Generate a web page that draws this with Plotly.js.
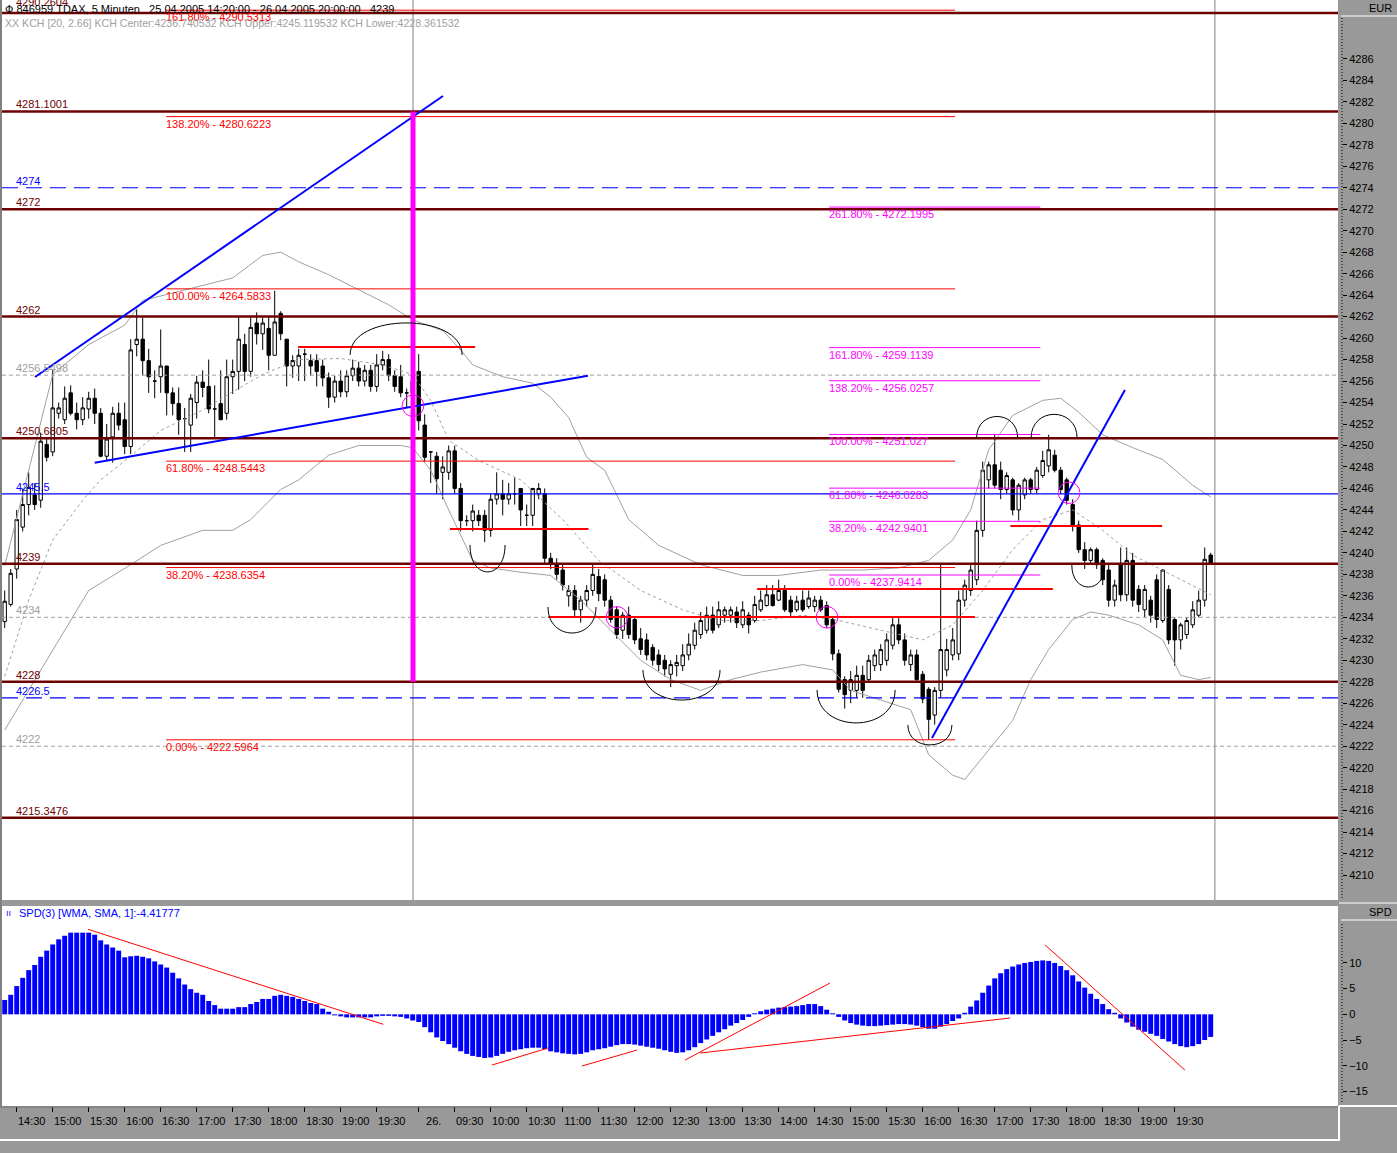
<!DOCTYPE html>
<html><head><meta charset="utf-8">
<script src="https://cdn.plot.ly/plotly-3.0.1.min.js"></script>
<style>html,body{margin:0;padding:0;background:#999999}#chart{width:1397px;height:1153px}</style>
</head><body><div id="chart"></div>
<script>
// ---------------- DATA ----------------
const openP = [4233.6,4235.2,4238.5,4242.4,4244.5,4245.4,4244.9,4250.1,4249.4,4253.0,
4252.4,4254.9,4253.0,4252.4,4253.4,4254.4,4253.0,4249.0,4250.8,4253.0,
4252.4,4249.9,4259.4,4259.9,4257.9,4256.0,4256.4,4257.4,4254.9,4253.9,
4252.5,4251.9,4254.0,4255.9,4255.5,4253.4,4253.9,4253.0,4256.4,4256.9,
4259.4,4256.9,4261.4,4260.4,4260.9,4258.4,4262.3,4259.9,4257.4,4257.4,
4258.5,4257.9,4257.9,4257.4,4256.3,4254.5,4256.0,4255.0,4256.5,4257.2,
4256.0,4257.0,4255.5,4257.5,4258.0,4256.5,4256.4,4254.9,4254.9,4256.9,
4251.9,4249.4,4249.0,4247.5,4247.5,4249.5,4246.0,4243.0,4243.0,4243.5,
4243.5,4242.1,4245.0,4245.5,4245.0,4245.5,4246.0,4243.5,4243.5,4245.5,
4245.5,4239.5,4239.0,4238.4,4236.0,4236.5,4234.7,4235.6,4236.5,4237.8,
4237.5,4235.6,4234.7,4232.8,4234.2,4233.8,4232.0,4231.9,4231.2,4230.5,
4230.0,4228.7,4229.5,4229.5,4230.5,4231.4,4232.4,4232.8,4234.2,4233.3,
4234.2,4234.2,4234.5,4233.3,4234.2,4233.7,4234.7,4235.1,4236.1,4235.6,
4236.5,4235.6,4234.7,4235.6,4235.0,4235.0,4235.6,4235.1,4233.8,4230.6,
4228.2,4227.2,4227.2,4228.6,4228.2,4229.5,4229.6,4230.0,4231.4,4233.3,
4231.9,4229.6,4230.5,4228.7,4227.3,4224.9,4227.2,4229.1,4230.5,4230.6,
4235.6,4236.5,4237.5,4242.1,4246.8,4248.2,4247.7,4245.9,4246.8,4244.0,
4245.4,4246.8,4245.9,4247.2,4248.1,4249.1,4247.7,4246.8,4244.5,4242.6,
4240.3,4239.3,4240.3,4239.3,4238.4,4235.6,4238.9,4236.1,4239.3,4236.6,
4234.7,4235.6,4237.5,4233.7,4236.6,4233.8,4231.9,4232.4,4233.3,4234.2,
4235.6,4239.8];
const highP = [4236.5,4238.5,4244.0,4246.0,4247.5,4246.5,4251.2,4250.8,4257.0,4254.0,
4255.5,4255.6,4254.0,4254.5,4255.0,4255.3,4253.5,4252.0,4253.6,4254.0,
4254.0,4259.9,4262.7,4261.9,4259.0,4257.0,4260.8,4257.4,4255.4,4255.4,
4253.5,4254.8,4256.5,4257.0,4258.0,4255.6,4257.0,4258.0,4258.0,4262.0,
4260.4,4261.9,4262.4,4261.9,4262.0,4264.4,4262.5,4259.9,4258.4,4259.0,
4259.0,4258.5,4258.5,4258.0,4256.8,4256.5,4257.0,4257.0,4258.0,4257.8,
4257.5,4257.5,4258.5,4258.8,4258.5,4257.0,4257.5,4255.3,4256.5,4258.5,
4252.9,4249.4,4249.4,4249.0,4250.0,4250.0,4246.5,4243.5,4244.5,4244.0,
4244.0,4245.5,4247.5,4246.8,4246.5,4247.0,4246.0,4244.5,4246.0,4246.5,
4246.0,4240.0,4239.5,4239.0,4237.0,4237.0,4236.0,4237.0,4239.0,4238.5,
4238.0,4236.0,4235.0,4234.5,4235.0,4234.0,4233.0,4232.5,4231.5,4231.0,
4230.5,4230.0,4230.5,4231.5,4232.5,4233.5,4234.5,4235.0,4235.0,4235.5,
4235.0,4235.0,4235.0,4235.5,4234.5,4236.0,4236.5,4237.0,4237.0,4237.5,
4237.0,4236.0,4236.0,4236.5,4236.5,4236.0,4236.0,4235.5,4234.0,4231.0,
4228.5,4229.0,4229.5,4229.5,4230.5,4231.0,4231.5,4232.5,4234.0,4234.0,
4232.5,4231.0,4231.0,4229.0,4227.5,4227.5,4239.0,4232.0,4233.0,4236.5,
4237.5,4239.0,4243.0,4248.5,4248.5,4251.0,4248.5,4247.5,4247.0,4246.5,
4247.0,4247.0,4248.0,4249.5,4251.0,4249.6,4248.0,4247.0,4245.0,4243.0,
4241.0,4240.5,4240.5,4239.5,4239.0,4237.5,4240.5,4240.5,4240.0,4237.0,
4237.0,4236.0,4238.0,4238.5,4237.0,4234.0,4233.5,4234.0,4235.5,4236.5,
4240.5,4240.0];
const lowP = [4233.0,4235.0,4237.6,4242.0,4243.5,4244.0,4244.2,4248.5,4249.0,4252.5,
4252.0,4252.8,4251.5,4251.9,4252.5,4252.0,4248.9,4248.6,4248.4,4251.4,
4249.2,4249.2,4258.3,4256.5,4254.9,4254.4,4254.9,4252.8,4252.8,4251.0,
4249.4,4249.4,4252.5,4254.5,4253.0,4250.6,4252.8,4252.4,4254.8,4255.2,
4256.0,4256.4,4259.4,4258.9,4257.0,4258.4,4259.8,4255.5,4256.3,4256.0,
4256.0,4256.5,4255.5,4255.5,4253.5,4254.0,4254.5,4254.5,4256.0,4255.5,
4255.5,4255.0,4255.0,4257.0,4256.0,4255.0,4254.5,4253.5,4254.0,4251.4,
4248.5,4246.5,4245.5,4245.0,4246.8,4245.5,4242.0,4242.5,4242.0,4242.5,
4241.0,4241.5,4244.5,4243.5,4244.5,4244.5,4242.5,4242.5,4242.5,4245.0,
4239.0,4238.5,4237.5,4236.5,4235.0,4234.0,4233.5,4235.0,4236.0,4235.5,
4235.0,4233.5,4232.0,4232.0,4232.0,4231.5,4230.5,4230.0,4229.5,4229.0,
4228.5,4227.5,4228.5,4229.0,4230.0,4231.0,4232.0,4232.5,4232.5,4233.0,
4233.5,4233.5,4233.0,4233.0,4232.5,4233.5,4234.5,4235.0,4235.0,4235.5,
4234.5,4234.0,4234.5,4234.5,4234.8,4234.5,4234.5,4233.0,4230.0,4227.0,
4225.5,4226.0,4226.5,4226.5,4228.0,4229.0,4229.0,4229.5,4231.0,4231.5,
4229.5,4229.0,4228.0,4226.0,4222.6,4224.0,4226.5,4228.5,4230.0,4230.0,
4235.0,4236.0,4237.0,4241.5,4246.0,4246.0,4245.0,4245.5,4243.5,4243.0,
4245.0,4245.5,4245.5,4247.0,4247.5,4247.5,4245.5,4244.5,4242.0,4240.0,
4238.5,4239.0,4238.5,4237.0,4235.0,4235.0,4235.5,4235.5,4235.0,4234.5,
4234.0,4233.5,4233.0,4233.5,4231.5,4229.5,4231.0,4232.0,4233.0,4234.0,
4235.0,4238.9];
const closeP = [4235.5,4238.1,4243.1,4244.5,4246.1,4244.5,4250.4,4248.9,4253.5,4253.5,
4254.4,4253.0,4252.4,4253.5,4254.4,4253.0,4249.0,4250.6,4253.0,4251.9,
4249.9,4258.9,4259.9,4257.9,4256.4,4256.0,4257.4,4254.9,4253.9,4252.4,
4252.5,4254.4,4255.9,4255.4,4253.4,4253.4,4252.4,4256.4,4256.9,4259.9,
4256.9,4261.0,4260.4,4261.4,4258.4,4261.5,4260.4,4257.4,4257.9,4258.4,
4258.5,4257.4,4256.9,4256.3,4254.5,4256.0,4255.0,4256.5,4257.2,4256.0,
4257.0,4255.5,4257.5,4258.0,4256.5,4255.5,4254.9,4254.9,4256.0,4252.3,
4248.9,4249.4,4246.9,4248.0,4249.5,4246.0,4243.0,4243.0,4243.9,4243.0,
4242.1,4245.0,4245.5,4245.0,4245.5,4245.5,4244.0,4243.5,4246.0,4246.0,
4239.5,4239.0,4238.0,4237.0,4236.5,4234.7,4235.6,4236.5,4238.0,4236.2,
4235.6,4233.8,4232.4,4234.2,4232.4,4231.9,4231.0,4230.5,4230.0,4229.6,
4229.2,4229.6,4229.8,4230.5,4231.5,4232.8,4233.7,4234.2,4232.8,4234.7,
4234.7,4234.7,4233.5,4234.7,4233.3,4235.2,4235.6,4236.1,4235.1,4236.5,
4234.7,4234.5,4235.5,4234.7,4235.8,4235.6,4234.7,4233.3,4230.6,4227.3,
4226.8,4228.2,4228.6,4227.2,4230.0,4230.5,4231.0,4231.9,4233.3,4231.9,
4230.0,4230.5,4228.2,4226.4,4224.5,4227.2,4231.0,4231.0,4231.9,4235.6,
4237.0,4238.4,4242.1,4247.7,4248.2,4246.3,4245.9,4247.2,4244.0,4246.3,
4246.8,4245.9,4247.7,4248.6,4249.6,4247.7,4245.9,4244.9,4242.6,4240.3,
4239.3,4240.3,4238.9,4237.5,4235.6,4237.0,4236.1,4239.3,4235.6,4235.2,
4236.6,4234.2,4233.8,4238.4,4231.9,4231.9,4233.3,4233.7,4234.7,4235.6,
4239.4,4239.0];
const spdValues = [2.8,3.8,5.5,7.1,8.6,9.6,11.2,12.4,13.6,14.6,15.3,15.9,15.9,15.9,15.9,15.5,14.4,13.6,13.0,12.4,
11.1,11.3,11.4,11.2,10.9,10.3,9.7,9.1,8.1,7.0,5.8,4.9,4.2,3.8,2.6,1.8,1.1,1.1,1.1,1.4,
1.4,2.0,2.4,3.0,3.0,3.6,3.8,3.6,3.4,3.0,2.6,2.2,2.0,1.1,0.5,-0.2,-0.4,-0.6,-0.6,-0.6,
-0.6,-0.6,-0.4,-0.3,-0.3,-0.4,-0.5,-0.8,-1.2,
-1.5,-2.5,-3.5,-4.5,-5.2,-5.8,-6.5,-7.2,-7.7,-8.1,
-8.3,-8.5,-8.4,-8.1,-7.7,-7.3,-7.0,-6.8,-6.6,-6.5,
-6.5,-6.8,-7.2,-7.4,-7.6,-7.7,-7.8,-7.7,-7.4,-7.0,
-6.8,-6.6,-6.3,-6.0,-5.8,-5.8,-5.9,-6.1,-6.3,-6.5,
-6.7,-7.0,-7.3,-7.5,-7.4,-7.0,-6.4,-5.6,-4.9,-4.2,
-3.5,-2.9,-2.2,-1.7,-1.1,-0.5,0.2,0.6,0.9,1.1,
1.3,1.4,1.5,1.6,1.8,2.0,2.0,1.6,0.9,0.2,
-0.5,-1.2,-1.7,-2.0,-2.2,-2.3,-2.3,-2.2,-2.1,-2.0,
-1.9,-1.9,-2.0,-2.2,-2.5,-2.8,-2.8,-2.4,-1.9,-1.3,
-0.8,0.3,1.5,2.7,4.2,5.6,7.0,8.0,8.8,9.3,
9.7,10.0,10.2,10.4,10.5,10.4,10.0,9.4,8.6,7.6,
6.4,5.2,4.0,3.0,2.0,1.0,0.3,-0.8,-1.6,-2.4,
-3.0,-3.4,-3.8,-4.2,-4.8,-5.3,-5.8,-6.2,-6.4,-6.2,
-5.8,-5.0,-4.4];
// Keltner channel (sampled at bar index)
const kchUpperIdx = [0,4,8,14,20,23,28,33,38,43,46,49,54,59,64,68,73,76,78,83,88,91,94,97,100,104,109,116,123,129,136,143,149,154,158,161,164,168,173,176,179,183,188,193,198,201];
const kchUpper = [4238.8,4247.7,4256.6,4259.4,4261.2,4263.5,4264.2,4264.9,4265.6,4267.7,4268.0,4267.1,4265.9,4264.5,4263.1,4261.7,4260.7,4258.9,4257.5,4256.4,4255.8,4254.5,4252.6,4248.9,4247.7,4243.1,4240.7,4238.9,4237.9,4237.9,4238.4,4238.4,4238.6,4239.3,4241.2,4244.0,4249.6,4252.8,4254.2,4254.4,4253.1,4251.0,4249.8,4248.7,4246.3,4245.2];
const kchCenterIdx = [0,4,8,13,16,21,26,33,38,43,49,56,63,68,71,74,79,86,93,99,106,113,119,126,133,139,146,153,158,163,168,173,178,183,188,193,198,201];
const kchCenter = [4228.5,4235.6,4241.2,4244.9,4246.8,4249.0,4251.4,4253.3,4255.0,4256.6,4258.0,4258.1,4257.5,4256.6,4254.2,4250.5,4248.6,4246.8,4243.1,4239.3,4236.5,4234.7,4233.7,4233.7,4234.2,4233.7,4232.8,4231.9,4233.3,4236.5,4240.3,4243.1,4244.0,4242.1,4239.8,4238.4,4237.0,4236.1];
const kchLowerIdx = [0,4,9,14,21,26,33,38,41,46,49,54,59,66,68,71,74,78,81,86,91,96,101,106,111,116,121,126,133,138,141,146,151,154,158,160,164,168,171,174,178,181,184,189,193,196,199,201];
const kchLower = [4223.5,4227.2,4231.9,4236.5,4238.9,4240.7,4242.1,4242.1,4243.1,4245.9,4246.8,4249.1,4250.0,4250.0,4249.8,4247.7,4244.0,4239.3,4238.6,4238.2,4237.9,4235.6,4232.8,4230.0,4228.2,4227.2,4228.2,4228.9,4229.6,4229.1,4227.2,4226.3,4225.4,4221.2,4219.3,4218.9,4221.7,4224.4,4228.2,4231.0,4233.8,4234.5,4234.2,4233.3,4231.9,4228.6,4228.2,4228.4];
// horizontal levels
const darkRedLevels = [4290.2604,4281.1001,4272,4262,4250.6805,4239,4228,4215.3476];
const darkRedLabels = ['4290.2604','4281.1001','4272','4262','4250.6805','4239','4228','4215.3476'];
const blueDashLevels = [4274,4226.5];
const blueDashLabels = ['4274','4226.5'];
const blueSolidLevels = [4245.5];
const blueSolidLabels = ['4245.5'];
const grayDashLevels = [4256.5498,4234,4222];
const grayDashLabels = ['4256.5498','4234','4222'];
// Fibonacci sets
const fibRedPct = ['161.80%','138.20%','100.00%','61.80%','38.20%','0.00%'];
const fibRedVal = [4290.5313,4280.6223,4264.5833,4248.5443,4238.6354,4222.5964];
const fibRedLabelVal = ['4290.5313','4280.6223','4264.5833','4248.5443','4238.6354','4222.5964'];
const fibMagPct = ['261.80%','161.80%','138.20%','100.00%','61.80%','38.20%','0.00%'];
const fibMagVal = [4272.1995,4259.1139,4256.0257,4251.027,4246.0283,4242.9401,4237.9414];
const fibMagLabelVal = ['4272.1995','4259.1139','4256.0257','4251.027','4246.0283','4242.9401','4237.9414'];
const fibRedSpan = [26.9,158.4];
const fibMagSpan = [137.4,172.6];
// red support/resistance segments: level, from bar, to bar
const srLevel = [4259.17,4242.23,4234.03,4236.64,4242.5];
const srFrom  = [48.9,74.2,90.6,125.4,167.6];
const srTo    = [78.4,97.3,161.7,174.7,192.9];
// blue trend lines [bar0, price0, bar1, price1]
const trendLines = [[5.05,4256.38,73.05,4282.54],[15.0,4248.4,97.2,4256.5],[154.55,4222.77,186.7,4255.17]];
// magenta vertical marker
const markerBar = 68.05, markerFrom = 4228, markerTo = 4281.1001;
// magenta circles [bar, price]
const circleCenters = [[68.05,4253.7],[102.05,4234.0],[137.05,4234.0],[177.4,4245.6]];
// arcs [centre bar, end level, half width (bars), height (price), up?]
const arcs = [[66.9,4258.43,9.33,2.98,1],[80.47,4240.74,2.92,2.51,0],[94.55,4234.96,4.0,2.42,0],[112.8,4229.1,6.42,2.8,0],[141.9,4227.24,6.5,3.07,0],[154.2,4223.98,3.67,1.86,0],[180.6,4238.87,2.75,2.05,0],[165.4,4250.7,3.42,2.0,1],[174.9,4250.7,3.83,2.2,1]];
// SPD trend lines [bar0, v0, bar1, v1]
const spdLines = [[13.9,16.55,63.1,-1.95],[81.2,-9.88,90.55,-6.56],[96.2,-10.07,105.4,-6.95],[113.4,-8.9,137.55,6.09],[115.9,-7.53,167.55,-0.72],[173.4,13.5,196.7,-10.86]];
// day separators
const separatorBars = [68.05,201.7];
// time axis
const tickBars = [2,8,14,20,26,32,38,44,50,56,62,69,75,81,87,93,99,105,111,117,123,129,135,141,147,153,159,165,171,177,183,189,195];
const tickLabels = ['14:30','15:00','15:30','16:00','16:30','17:00','17:30','18:00','18:30','19:00','19:30','26.','09:30','10:00','10:30','11:00','11:30','12:00','12:30','13:00','13:30','14:00','14:30','15:00','15:30','16:00','16:30','17:00','17:30','18:00','18:30','19:00','19:30'];
const priceTicks = [4210,4212,4214,4216,4218,4220,4222,4224,4226,4228,4230,4232,4234,4236,4238,4240,4242,4244,4246,4248,4250,4252,4254,4256,4258,4260,4262,4264,4266,4268,4270,4272,4274,4276,4278,4280,4282,4284,4286];
const spdTicks = [-15,-10,-5,0,5,10];

// ---------------- LAYOUT HELPERS ----------------
const PW = 1342, PH = 1106; // plot area in px
const px = v => v / PW;
const py = v => 1 - v / PH;
const bars = openP.map((_, i) => i);
const FONT = 'Liberation Sans, Arial, sans-serif';
const DARKRED = '#6E0000';

const traces = [];
traces.push({type:'scatter',mode:'lines',x:kchUpperIdx,y:kchUpper,line:{color:'#A0A0A0',width:1},xaxis:'x',yaxis:'y',hoverinfo:'skip'});
traces.push({type:'scatter',mode:'lines',x:kchLowerIdx,y:kchLower,line:{color:'#A0A0A0',width:1},xaxis:'x',yaxis:'y',hoverinfo:'skip'});
traces.push({type:'scatter',mode:'lines',x:kchCenterIdx,y:kchCenter,line:{color:'#A0A0A0',width:1,dash:'3px,3px'},xaxis:'x',yaxis:'y',hoverinfo:'skip'});
traces.push({type:'candlestick',x:bars,open:openP,high:highP,low:lowP,close:closeP,xaxis:'x',yaxis:'y',
  increasing:{line:{color:'#000000',width:1},fillcolor:'#FFFFFF'},
  decreasing:{line:{color:'#000000',width:1},fillcolor:'#000000'},whiskerwidth:0,hoverinfo:'skip'});
traces.push({type:'bar',x:bars,y:spdValues,xaxis:'x2',yaxis:'y2',width:0.82,marker:{color:'#0000FF',line:{width:0}},hoverinfo:'skip'});

const shapes = [];
// panel backgrounds
shapes.push({type:'rect',xref:'paper',yref:'paper',x0:px(2),x1:px(1338),y0:py(900),y1:1,fillcolor:'#FFFFFF',line:{width:0},layer:'below'});
shapes.push({type:'rect',xref:'paper',yref:'paper',x0:px(2),x1:px(1338),y0:0,y1:py(906),fillcolor:'#FFFFFF',line:{width:0},layer:'below'});
// frame lines
shapes.push({type:'line',xref:'paper',yref:'paper',x0:px(1),x1:px(1),y0:0,y1:1,line:{color:'#808080',width:2},layer:'below'});
shapes.push({type:'line',xref:'paper',yref:'paper',x0:px(1342),x1:px(1342),y0:py(18),y1:py(898),line:{color:'#000000',width:1,dash:'1px,2px'}});
shapes.push({type:'line',xref:'paper',yref:'paper',x0:px(1342),x1:px(1342),y0:py(1102),y1:py(924),line:{color:'#000000',width:1,dash:'1px,2px'}});
shapes.push({type:'line',xref:'paper',yref:'paper',x0:px(1341),x1:px(1397),y0:py(16),y1:py(16),line:{color:'#FFFFFF',width:1}});
shapes.push({type:'line',xref:'paper',yref:'paper',x0:px(1341),x1:px(1397),y0:py(920),y1:py(920),line:{color:'#FFFFFF',width:1}});
shapes.push({type:'line',xref:'paper',yref:'paper',x0:px(1339),x1:px(1397),y0:py(903),y1:py(903),line:{color:'#FFFFFF',width:1}});
shapes.push({type:'line',xref:'paper',yref:'paper',x0:0,x1:px(1339),y0:py(1107),y1:py(1107),line:{color:'#707070',width:1}});
shapes.push({type:'line',xref:'paper',yref:'paper',x0:0,x1:px(1339),y0:py(1140),y1:py(1140),line:{color:'#FFFFFF',width:2}});
shapes.push({type:'line',xref:'paper',yref:'paper',x0:px(1339),x1:px(1339),y0:py(1106),y1:py(1141),line:{color:'#FFFFFF',width:2}});
shapes.push({type:'line',xref:'paper',yref:'paper',x0:px(1339),x1:px(1397),y0:py(1106),y1:py(1106),line:{color:'#FFFFFF',width:2}});
// day separators
separatorBars.forEach(b => shapes.push({type:'line',xref:'x',yref:'paper',x0:b,x1:b,y0:py(900),y1:1,line:{color:'#808080',width:1},layer:'below'}));
// horizontal levels
const fullLine = (lvl, color, width, dash) => ({type:'line',xref:'paper',yref:'y',x0:px(2),x1:px(1338),y0:lvl,y1:lvl,line:{color:color,width:width,dash:dash||'solid'}});
grayDashLevels.forEach(l => shapes.push(fullLine(l,'#A0A0A0',1,'4px,3px')));
blueDashLevels.forEach(l => shapes.push(fullLine(l,'#0000FF',1.2,'16px,8px')));
blueSolidLevels.forEach(l => shapes.push(fullLine(l,'#0000FF',1.2)));
// fib lines
fibRedVal.forEach(v => shapes.push({type:'line',xref:'x',yref:'y',x0:fibRedSpan[0],x1:fibRedSpan[1],y0:v,y1:v,line:{color:'#FF0000',width:1}}));
fibMagVal.forEach(v => shapes.push({type:'line',xref:'x',yref:'y',x0:fibMagSpan[0],x1:fibMagSpan[1],y0:v,y1:v,line:{color:'#FF00FF',width:1}}));
darkRedLevels.forEach(l => shapes.push(fullLine(l,DARKRED,2.5)));
// S/R segments
srLevel.forEach((l,k) => shapes.push({type:'line',xref:'x',yref:'y',x0:srFrom[k],x1:srTo[k],y0:l,y1:l,line:{color:'#FF0000',width:2}}));
// trend lines
trendLines.forEach(t => shapes.push({type:'line',xref:'x',yref:'y',x0:t[0],y0:t[1],x1:t[2],y1:t[3],line:{color:'#0000FF',width:2}}));
// magenta vertical
shapes.push({type:'line',xref:'x',yref:'y',x0:markerBar,x1:markerBar,y0:markerFrom,y1:markerTo,line:{color:'#FF00FF',width:5}});
// circles
circleCenters.forEach(c => shapes.push({type:'circle',xref:'x',yref:'y',x0:c[0]-1.8,x1:c[0]+1.8,y0:c[1]-1.0,y1:c[1]+1.0,line:{color:'#FF00FF',width:1}}));
// arcs
arcs.forEach(a => {
  const k = (a[4] ? 1 : -1) * a[3] * 4 / 3;
  const p = `M ${a[0]-a[2]},${a[1]} C ${a[0]-a[2]},${a[1]+k} ${a[0]+a[2]},${a[1]+k} ${a[0]+a[2]},${a[1]}`;
  shapes.push({type:'path',xref:'x',yref:'y',path:p,line:{color:'#000000',width:1}});
});
// SPD lines
spdLines.forEach(t => shapes.push({type:'line',xref:'x2',yref:'y2',x0:t[0],y0:t[1],x1:t[2],y1:t[3],line:{color:'#FF0000',width:1}}));

const ann = [];
const txt = (x, xref, y, yref, text, color, xanchor, yanchor, yshift, size) => ({x:x,xref:xref,y:y,yref:yref,text:text,showarrow:false,
  xanchor:xanchor||'left',yanchor:yanchor||'bottom',yshift:yshift||0,font:{family:FONT,size:size||11,color:color}});
darkRedLevels.forEach((l,k) => ann.push(txt(px(14),'paper',l,'y',darkRedLabels[k],DARKRED,'left','bottom',k===0?3:-1)));
blueDashLevels.forEach((l,k) => ann.push(txt(px(14),'paper',l,'y',blueDashLabels[k],'#0000FF','left','bottom',-1)));
blueSolidLevels.forEach((l,k) => ann.push(txt(px(14),'paper',l,'y',blueSolidLabels[k],'#0000FF','left','bottom',-1)));
grayDashLevels.forEach((l,k) => ann.push(txt(px(14),'paper',l,'y',grayDashLabels[k],'#A0A0A0','left','bottom',-1)));
fibRedVal.forEach((v,k) => ann.push(txt(fibRedSpan[0]-0.3,'x',v,'y',fibRedPct[k]+' - '+fibRedLabelVal[k],'#FF0000','left','top',1)));
fibMagVal.forEach((v,k) => ann.push(txt(fibMagSpan[0]-0.3,'x',v,'y',fibMagPct[k]+' - '+fibMagLabelVal[k],'#FF00FF','left','top',1)));
ann.push(txt(px(3),'paper',py(9),'paper','\u0424 846959 TDAX, 5 Minuten   25.04.2005 14:20:00 - 26.04.2005 20:00:00   4239','#000000','left','middle',0,11));
ann.push(txt(px(3),'paper',py(23),'paper','XX KCH [20, 2.66] KCH Center:4236.740532 KCH Upper:4245.119532 KCH Lower:4228.361532','#A0A0A0','left','middle',0,10.6));
ann.push(txt(px(1394),'paper',py(8),'paper','EUR','#000000','right','middle',0,11));
ann.push(txt(px(1394),'paper',py(912),'paper','SPD','#000000','right','middle',0,11));
ann.push(txt(px(4),'paper',py(913),'paper','\u0131\u0131','#0000FF','left','middle',0,9));
ann.push(txt(px(17),'paper',py(913),'paper','SPD(3) [WMA, SMA, 1]:-4.41777','#0000FF','left','middle',0,11));

const xr = [-4.7/6, (PW-4.7)/6];
const layout = {
  width:1397, height:1153,
  margin:{l:0,r:55,t:0,b:47,pad:0},
  paper_bgcolor:'#999999', plot_bgcolor:'#999999',
  showlegend:false, hovermode:false, boxgap:0.2,
  font:{family:FONT,size:11,color:'#000'},
  xaxis:{domain:[0,1],range:xr,anchor:'y',showticklabels:false,ticks:'',showgrid:false,zeroline:false,showline:false,rangeslider:{visible:false}},
  yaxis:{domain:[py(900),1],range:[4207.68,4291.48],side:'right',anchor:'x',tickvals:priceTicks,ticks:'outside',ticklen:4,tickcolor:'#000',
         tickfont:{family:FONT,size:11,color:'#000'},showgrid:false,zeroline:false,showline:false},
  xaxis2:{domain:[0,1],range:xr,anchor:'y2',tickvals:tickBars,ticktext:tickLabels,ticks:'outside',ticklen:5,tickcolor:'#000',ticklabelshift:15,
          tickfont:{family:FONT,size:11,color:'#000'},showgrid:false,zeroline:false,showline:false},
  yaxis2:{domain:[0,py(906)],range:[-17.85,21.09],side:'right',anchor:'x2',tickvals:spdTicks,ticks:'outside',ticklen:4,tickcolor:'#000',
          tickfont:{family:FONT,size:11,color:'#000'},showgrid:false,zeroline:false,showline:false},
  shapes:shapes, annotations:ann
};
Plotly.newPlot('chart', traces, layout, {staticPlot:true,displayModeBar:false});
</script></body></html>
